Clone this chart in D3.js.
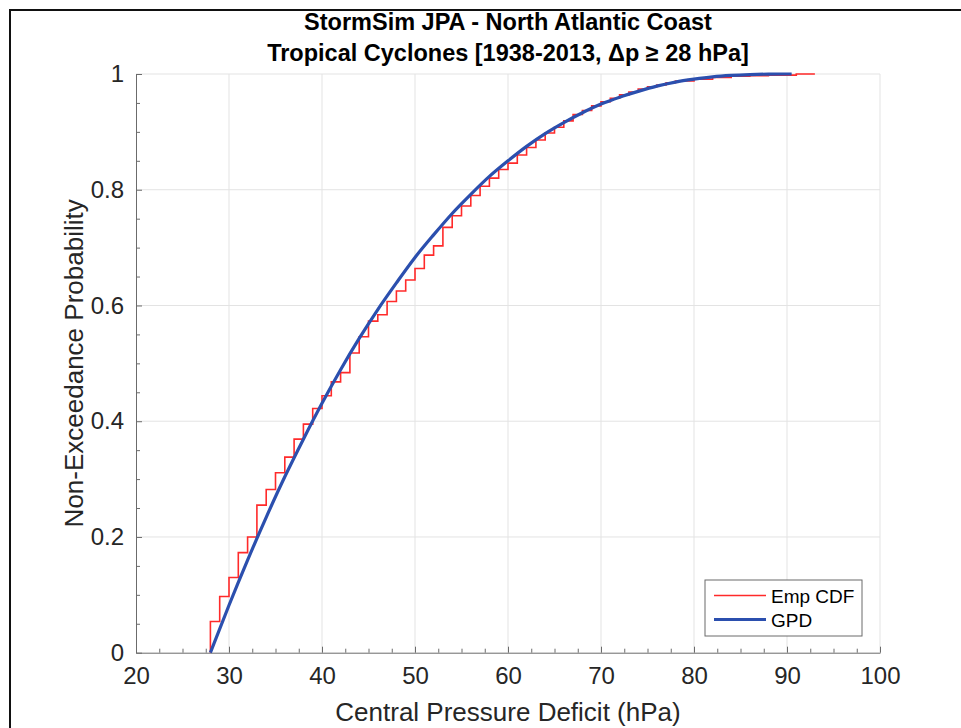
<!DOCTYPE html>
<html lang="en">
<head>
<meta charset="utf-8">
<title>StormSim JPA - North Atlantic Coast</title>
<script src="https://d3js.org/d3.v7.min.js"></script>
<style>
    body { margin: 0; background: #fff; }
    svg { display: block; }
    text { font-family: "Liberation Sans", Arial, sans-serif; }
</style>
</head>
<body>
<script>
    // empirical CDF: pressure deficit where each step happens, and level after the step
    var empX = [28, 29, 30, 31, 32, 33, 34, 35, 36, 37, 38, 39, 40, 41, 42, 43, 44, 45, 46, 47, 48, 49, 50,
        51, 52, 53, 54, 55, 56, 57, 58, 59, 60, 61, 62, 63, 64, 65, 66, 67, 68, 69, 70,
        71, 72, 73, 74, 75, 76, 77, 78, 80, 82, 84, 86, 88, 91];
    var empP = [0.054, 0.097, 0.130, 0.173, 0.200, 0.255, 0.282, 0.311, 0.338, 0.369, 0.395, 0.422, 0.444,
        0.468, 0.484, 0.518, 0.546, 0.573, 0.584, 0.607, 0.625, 0.644, 0.664, 0.687, 0.703, 0.735,
        0.755, 0.772, 0.790, 0.806, 0.820, 0.835, 0.846, 0.860, 0.873, 0.886, 0.898, 0.908, 0.919,
        0.930, 0.937, 0.945, 0.952, 0.958, 0.964, 0.969, 0.974, 0.978, 0.981, 0.985, 0.988, 0.991,
        0.994, 0.996, 0.997, 0.998, 1.0];
    var empEnd = 93;

    // fitted GPD curve
    var gpdX = [28, 30, 32, 34, 36, 38, 40, 42, 44, 46, 48, 50, 52, 54, 56, 58, 60, 62, 64, 66, 68, 70,
        72, 74, 76, 78, 80, 82, 84, 86, 88, 90, 90.5];
    var gpdP = [0, 0.082, 0.160, 0.234, 0.304, 0.369, 0.431, 0.489, 0.543, 0.593, 0.639, 0.683, 0.722,
        0.759, 0.792, 0.823, 0.850, 0.875, 0.897, 0.916, 0.933, 0.948, 0.960, 0.970, 0.979, 0.986,
        0.991, 0.995, 0.9975, 0.999, 0.9998, 1.0, 1.0];

    var xTicks = [20, 30, 40, 50, 60, 70, 80, 90, 100];
    var yTicks = [0, 0.2, 0.4, 0.6, 0.8, 1];
    var yTickLabels = ["0", "0.2", "0.4", "0.6", "0.8", "1"];

    var W = 961, H = 728;
    var pLeft = 136, pRight = 880, pTop = 74, pBottom = 652.7;

    var svg = d3.select("body").append("svg")
        .attr("width", W)
        .attr("height", H);

    // outer frame
    svg.append("rect")
        .attr("x", 10).attr("y", 10)
        .attr("width", 1000).attr("height", 1000)
        .attr("fill", "none")
        .attr("stroke", "#111")
        .attr("stroke-width", 2);

    var x = d3.scaleLinear().domain([20, 100]).range([pLeft, pRight]);
    var y = d3.scaleLinear().domain([0, 1]).range([pBottom, pTop]);

    // grid
    var grid = svg.append("g").attr("stroke", "#e3e3e3").attr("stroke-width", 1);
    grid.selectAll(".gx").data(xTicks.slice(1)).enter().append("line")
        .attr("x1", function (d) { return x(d); }).attr("x2", function (d) { return x(d); })
        .attr("y1", pTop).attr("y2", pBottom);
    grid.selectAll(".gy").data(yTicks.slice(1)).enter().append("line")
        .attr("y1", function (d) { return y(d); }).attr("y2", function (d) { return y(d); })
        .attr("x1", pLeft).attr("x2", pRight);

    // axes (ticks point inward)
    var axisColor = "#6b6b6b";
    var xAxis = svg.append("g")
        .attr("transform", "translate(0," + pBottom + ")")
        .call(d3.axisBottom(x).tickValues(xTicks).tickSizeInner(-6).tickSizeOuter(0).tickPadding(14)
            .tickFormat(d3.format("d")));
    var xMinor = svg.append("g")
        .attr("transform", "translate(0," + pBottom + ")")
        .call(d3.axisBottom(x).tickValues(d3.range(22.5, 100, 2.5).filter(function (d) { return d % 10 != 0; }))
            .tickSize(-4).tickFormat(""));
    xMinor.select(".domain").remove();

    var yAxis = svg.append("g")
        .attr("transform", "translate(" + pLeft + ",0)")
        .call(d3.axisLeft(y).tickValues(yTicks).tickSizeInner(-6).tickSizeOuter(0).tickPadding(12)
            .tickFormat(function (d, i) { return yTickLabels[i]; }));
    var yMinor = svg.append("g")
        .attr("transform", "translate(" + pLeft + ",0)")
        .call(d3.axisLeft(y).tickValues(d3.range(0.05, 1, 0.05).filter(function (d) { return Math.abs(d * 5 - Math.round(d * 5)) > 1e-6; }))
            .tickSize(-4).tickFormat(""));
    yMinor.select(".domain").remove();

    svg.selectAll(".domain, .tick line").attr("stroke", axisColor);
    xAxis.selectAll("text").attr("font-size", 24).attr("fill", "#262626")
        .attr("font-family", "Liberation Sans, Arial, sans-serif");
    yAxis.selectAll("text").attr("font-size", 24).attr("fill", "#262626")
        .attr("font-family", "Liberation Sans, Arial, sans-serif");

    // empirical cdf as stairs
    var empPts = [[28, 0]];
    empX.forEach(function (v, i) { empPts.push([v, empP[i]]); });
    empPts.push([empEnd, 1]);

    var stair = d3.line()
        .x(function (d) { return x(d[0]); })
        .y(function (d) { return y(d[1]); })
        .curve(d3.curveStepAfter);

    svg.append("path")
        .datum(empPts)
        .attr("d", stair)
        .attr("fill", "none")
        .attr("stroke", "#ff2a2a")
        .attr("stroke-width", 1.6);

    var gpdPts = gpdX.map(function (v, i) { return [v, gpdP[i]]; });
    var smooth = d3.line()
        .x(function (d) { return x(d[0]); })
        .y(function (d) { return y(d[1]); })
        .curve(d3.curveMonotoneX);

    svg.append("path")
        .datum(gpdPts)
        .attr("d", smooth)
        .attr("fill", "none")
        .attr("stroke", "#2b4fae")
        .attr("stroke-width", 3.2);

    // titles
    var mid = (pLeft + pRight) / 2;
    svg.append("text")
        .attr("x", mid).attr("y", 30)
        .attr("text-anchor", "middle")
        .attr("font-size", 23.5).attr("font-weight", "bold")
        .text("StormSim JPA - North Atlantic Coast");
    svg.append("text")
        .attr("x", mid).attr("y", 61)
        .attr("text-anchor", "middle")
        .attr("font-size", 23.5).attr("font-weight", "bold")
        .text("Tropical Cyclones [1938-2013, \u0394p \u2265 28 hPa]");

    svg.append("text")
        .attr("x", mid).attr("y", 721)
        .attr("text-anchor", "middle")
        .attr("font-size", 26).attr("fill", "#262626")
        .text("Central Pressure Deficit (hPa)");
    svg.append("text")
        .attr("transform", "translate(83," + ((pTop + pBottom) / 2) + ") rotate(-90)")
        .attr("text-anchor", "middle")
        .attr("font-size", 26).attr("fill", "#262626")
        .text("Non-Exceedance Probability");

    // legend
    var lg = svg.append("g");
    lg.append("rect")
        .attr("x", 705).attr("y", 580).attr("width", 157).attr("height", 56)
        .attr("fill", "#fff").attr("stroke", "#6b6b6b").attr("stroke-width", 1);
    var items = [{ name: "Emp CDF", color: "#ff2a2a", w: 1.6 }, { name: "GPD", color: "#2b4fae", w: 3.2 }];
    items.forEach(function (it, i) {
        var yy = 595.5 + i * 24;
        lg.append("line")
            .attr("x1", 714).attr("x2", 766).attr("y1", yy).attr("y2", yy)
            .attr("stroke", it.color).attr("stroke-width", it.w);
        lg.append("text")
            .attr("x", 771).attr("y", yy + 7)
            .attr("font-size", 19).attr("fill", "#000")
            .text(it.name);
    });
</script>
</body>
</html>
